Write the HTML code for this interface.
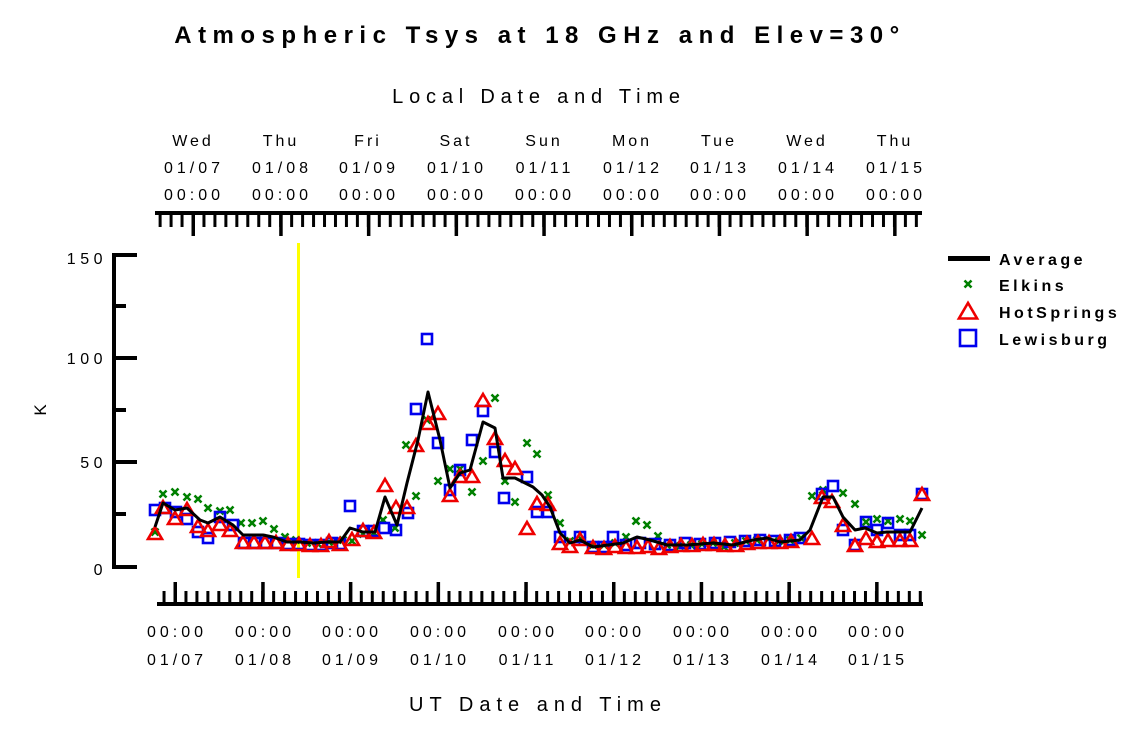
<!DOCTYPE html>
<html><head><meta charset="utf-8"><style>
html,body{margin:0;padding:0;background:#fff;}
svg{display:block;font-family:"Liberation Sans",sans-serif;}
</style></head><body>
<svg width="1125" height="731" viewBox="0 0 1125 731" xmlns="http://www.w3.org/2000/svg">
<defs>
<pattern id="pb" x="173.5" y="0" width="10.96" height="1000" patternUnits="userSpaceOnUse"><rect width="3" height="1000" fill="#000"/></pattern>
<pattern id="pt" x="191.5" y="0" width="10.96" height="1000" patternUnits="userSpaceOnUse"><rect width="3" height="1000" fill="#000"/></pattern>
<g id="sq"><rect x="-5" y="-5" width="10" height="10" fill="none" stroke="#0000ee" stroke-width="2.6"/></g>
<g id="tr"><path d="M0,-7 L7,5 L-7,5 Z" fill="none" stroke="#ee0000" stroke-width="2.6"/></g>
<g id="xx"><path d="M-3.5,-3.5 L3.5,3.5 M-3.5,3.5 L3.5,-3.5" stroke="#008000" stroke-width="2.6"/></g>
</defs>
<text x="540" y="43" text-anchor="middle" font-size="24" font-weight="bold" letter-spacing="6.5">Atmospheric Tsys at 18 GHz and Elev=30°</text>
<text x="539" y="103" text-anchor="middle" font-size="20" letter-spacing="5.8">Local Date and Time</text>
<g font-size="16" text-anchor="middle" letter-spacing="3">
<text x="193" y="146">Wed</text><text x="281" y="146">Thu</text><text x="368" y="146">Fri</text><text x="456" y="146">Sat</text><text x="544" y="146">Sun</text><text x="632" y="146">Mon</text><text x="719" y="146">Tue</text><text x="807" y="146">Wed</text><text x="895" y="146">Thu</text>
</g>
<g font-size="16" text-anchor="middle" letter-spacing="4">
<text x="194" y="173">01/07</text><text x="282" y="173">01/08</text><text x="369" y="173">01/09</text><text x="457" y="173">01/10</text><text x="545" y="173">01/11</text><text x="633" y="173">01/12</text><text x="720" y="173">01/13</text><text x="808" y="173">01/14</text><text x="896" y="173">01/15</text>
<text x="194" y="200">00:00</text><text x="282" y="200">00:00</text><text x="369" y="200">00:00</text><text x="457" y="200">00:00</text><text x="545" y="200">00:00</text><text x="633" y="200">00:00</text><text x="720" y="200">00:00</text><text x="808" y="200">00:00</text><text x="896" y="200">00:00</text>
<text x="177" y="637">00:00</text><text x="265" y="637">00:00</text><text x="352" y="637">00:00</text><text x="440" y="637">00:00</text><text x="528" y="637">00:00</text><text x="615" y="637">00:00</text><text x="703" y="637">00:00</text><text x="791" y="637">00:00</text><text x="878" y="637">00:00</text>
<text x="177" y="665">01/07</text><text x="265" y="665">01/08</text><text x="352" y="665">01/09</text><text x="440" y="665">01/10</text><text x="528" y="665">01/11</text><text x="615" y="665">01/12</text><text x="703" y="665">01/13</text><text x="791" y="665">01/14</text><text x="878" y="665">01/15</text>
</g>
<text x="538" y="711" text-anchor="middle" font-size="20" letter-spacing="6">UT Date and Time</text>
<g font-size="16" text-anchor="end" letter-spacing="4.5">
<text x="107" y="264">150</text><text x="107" y="364">100</text><text x="107" y="468">50</text><text x="107" y="575">0</text>
</g>
<text x="46" y="410" font-size="17" text-anchor="middle" transform="rotate(-90 46 410)">K</text>
<!-- top axis -->
<rect x="155" y="211" width="767" height="4"/>
<rect x="158" y="214" width="762" height="13" fill="url(#pt)"/>
<g fill="#000"><rect x="191.5" y="214" width="3.5" height="22"/><rect x="279.2" y="214" width="3.5" height="22"/><rect x="366.9" y="214" width="3.5" height="22"/><rect x="454.6" y="214" width="3.5" height="22"/><rect x="542.3" y="214" width="3.5" height="22"/><rect x="630" y="214" width="3.5" height="22"/><rect x="717.7" y="214" width="3.5" height="22"/><rect x="805.4" y="214" width="3.5" height="22"/><rect x="893.1" y="214" width="3.5" height="22"/></g>
<!-- bottom axis -->
<rect x="157" y="602" width="766" height="4"/>
<rect x="162" y="591" width="760" height="12" fill="url(#pb)"/>
<g fill="#000"><rect x="173.5" y="582" width="3.5" height="22"/><rect x="261.2" y="582" width="3.5" height="22"/><rect x="348.9" y="582" width="3.5" height="22"/><rect x="436.6" y="582" width="3.5" height="22"/><rect x="524.3" y="582" width="3.5" height="22"/><rect x="612" y="582" width="3.5" height="22"/><rect x="699.7" y="582" width="3.5" height="22"/><rect x="787.4" y="582" width="3.5" height="22"/><rect x="875.1" y="582" width="3.5" height="22"/></g>
<!-- y axis -->
<g fill="#000"><rect x="112" y="253" width="4" height="315"/>
<rect x="112" y="253" width="25" height="4"/><rect x="112" y="356" width="25" height="4"/><rect x="112" y="460" width="25" height="4"/><rect x="112" y="565" width="25" height="4"/>
<rect x="112" y="304" width="14" height="4"/><rect x="112" y="408" width="14" height="4"/><rect x="112" y="512" width="14" height="4"/></g>
<!-- yellow line -->
<rect x="297" y="243" width="3" height="335" fill="#ffff00"/>
<!-- markers -->
<g>
<use href="#xx" x="155" y="532"/><use href="#xx" x="163" y="494"/><use href="#xx" x="175" y="492"/><use href="#xx" x="187" y="497"/><use href="#xx" x="198" y="499"/><use href="#xx" x="208" y="508"/><use href="#xx" x="220" y="511"/><use href="#xx" x="230" y="510"/><use href="#xx" x="241" y="523"/><use href="#xx" x="252" y="523"/><use href="#xx" x="263" y="521"/><use href="#xx" x="274" y="529"/><use href="#xx" x="285" y="537"/>
<use href="#xx" x="296" y="540"/><use href="#xx" x="307" y="543"/><use href="#xx" x="318" y="544"/><use href="#xx" x="329" y="542"/><use href="#xx" x="343" y="540"/><use href="#xx" x="352" y="541"/><use href="#xx" x="363" y="534"/><use href="#xx" x="374" y="533"/><use href="#xx" x="383" y="520"/><use href="#xx" x="395" y="528"/><use href="#xx" x="406" y="445"/><use href="#xx" x="416" y="496"/>
<use href="#xx" x="427" y="420"/><use href="#xx" x="438" y="481"/><use href="#xx" x="450" y="469"/><use href="#xx" x="460" y="469"/><use href="#xx" x="472" y="492"/><use href="#xx" x="483" y="461"/><use href="#xx" x="495" y="398"/><use href="#xx" x="505" y="481"/><use href="#xx" x="515" y="502"/><use href="#xx" x="527" y="443"/><use href="#xx" x="537" y="454"/><use href="#xx" x="548" y="495"/><use href="#xx" x="560" y="523"/><use href="#xx" x="570" y="541"/>
<use href="#xx" x="582" y="540"/><use href="#xx" x="593" y="545"/><use href="#xx" x="604" y="545"/><use href="#xx" x="615" y="543"/><use href="#xx" x="626" y="537"/><use href="#xx" x="636" y="521"/><use href="#xx" x="647" y="525"/><use href="#xx" x="658" y="536"/><use href="#xx" x="667" y="545"/><use href="#xx" x="680" y="546"/><use href="#xx" x="691" y="545"/><use href="#xx" x="702" y="544"/><use href="#xx" x="713" y="543"/><use href="#xx" x="724" y="547"/><use href="#xx" x="735" y="543"/><use href="#xx" x="746" y="541"/><use href="#xx" x="757" y="540"/><use href="#xx" x="768" y="539"/><use href="#xx" x="779" y="541"/><use href="#xx" x="790" y="540"/><use href="#xx" x="801" y="538"/>
<use href="#xx" x="812" y="496"/><use href="#xx" x="823" y="490"/><use href="#xx" x="843" y="493"/><use href="#xx" x="855" y="504"/><use href="#xx" x="866" y="522"/><use href="#xx" x="877" y="519"/><use href="#xx" x="888" y="521"/><use href="#xx" x="900" y="519"/><use href="#xx" x="910" y="521"/><use href="#xx" x="922" y="535"/>
</g>
<g>
<use href="#sq" x="155" y="510"/><use href="#sq" x="165" y="508"/><use href="#sq" x="176" y="512"/><use href="#sq" x="187" y="519"/><use href="#sq" x="198" y="532"/><use href="#sq" x="208" y="538"/><use href="#sq" x="220" y="517"/><use href="#sq" x="233" y="525"/><use href="#sq" x="244" y="543"/><use href="#sq" x="255" y="543"/><use href="#sq" x="266" y="543"/><use href="#sq" x="277" y="543"/><use href="#sq" x="288" y="544"/><use href="#sq" x="299" y="544"/><use href="#sq" x="310" y="545"/><use href="#sq" x="321" y="545"/><use href="#sq" x="332" y="543"/><use href="#sq" x="340" y="544"/>
<use href="#sq" x="350" y="506"/><use href="#sq" x="363" y="531"/><use href="#sq" x="374" y="531"/><use href="#sq" x="384" y="528"/><use href="#sq" x="396" y="530"/><use href="#sq" x="408" y="513"/><use href="#sq" x="416" y="409"/><use href="#sq" x="427" y="339"/><use href="#sq" x="438" y="443"/><use href="#sq" x="450" y="490"/><use href="#sq" x="460" y="470"/><use href="#sq" x="472" y="440"/><use href="#sq" x="483" y="411"/><use href="#sq" x="495" y="452"/><use href="#sq" x="504" y="498"/><use href="#sq" x="527" y="477"/><use href="#sq" x="537" y="512"/><use href="#sq" x="548" y="512"/><use href="#sq" x="560" y="537"/><use href="#sq" x="580" y="537"/>
<use href="#sq" x="593" y="547"/><use href="#sq" x="604" y="547"/><use href="#sq" x="613" y="537"/><use href="#sq" x="626" y="545"/><use href="#sq" x="640" y="543"/><use href="#sq" x="655" y="544"/><use href="#sq" x="670" y="545"/><use href="#sq" x="685" y="543"/><use href="#sq" x="700" y="544"/><use href="#sq" x="715" y="543"/><use href="#sq" x="730" y="542"/><use href="#sq" x="745" y="541"/><use href="#sq" x="760" y="540"/><use href="#sq" x="775" y="541"/><use href="#sq" x="790" y="540"/><use href="#sq" x="800" y="538"/>
<use href="#sq" x="822" y="494"/><use href="#sq" x="833" y="486"/><use href="#sq" x="843" y="530"/><use href="#sq" x="855" y="545"/><use href="#sq" x="866" y="522"/><use href="#sq" x="877" y="530"/><use href="#sq" x="888" y="523"/><use href="#sq" x="900" y="535"/><use href="#sq" x="910" y="535"/><use href="#sq" x="922" y="494"/>
</g>
<g>
<use href="#tr" x="155" y="534"/><use href="#tr" x="163" y="508"/><use href="#tr" x="175" y="519"/><use href="#tr" x="187" y="510"/><use href="#tr" x="198" y="527"/><use href="#tr" x="208" y="531"/><use href="#tr" x="220" y="525"/><use href="#tr" x="230" y="531"/><use href="#tr" x="243" y="543"/><use href="#tr" x="254" y="543"/><use href="#tr" x="265" y="543"/><use href="#tr" x="276" y="543"/><use href="#tr" x="288" y="545"/><use href="#tr" x="299" y="545"/><use href="#tr" x="310" y="546"/><use href="#tr" x="321" y="546"/><use href="#tr" x="329" y="542"/><use href="#tr" x="340" y="545"/><use href="#tr" x="352" y="540"/><use href="#tr" x="363" y="531"/><use href="#tr" x="374" y="533"/>
<use href="#tr" x="385" y="486"/><use href="#tr" x="396" y="508"/><use href="#tr" x="407" y="508"/><use href="#tr" x="416" y="446"/><use href="#tr" x="428" y="424"/><use href="#tr" x="438" y="414"/><use href="#tr" x="450" y="496"/><use href="#tr" x="460" y="477"/><use href="#tr" x="472" y="477"/><use href="#tr" x="483" y="401"/><use href="#tr" x="495" y="439"/><use href="#tr" x="505" y="461"/><use href="#tr" x="515" y="469"/><use href="#tr" x="527" y="529"/><use href="#tr" x="537" y="504"/><use href="#tr" x="548" y="505"/><use href="#tr" x="560" y="544"/><use href="#tr" x="570" y="547"/><use href="#tr" x="580" y="540"/>
<use href="#tr" x="593" y="548"/><use href="#tr" x="604" y="549"/><use href="#tr" x="615" y="547"/><use href="#tr" x="626" y="548"/><use href="#tr" x="637" y="548"/><use href="#tr" x="648" y="547"/><use href="#tr" x="659" y="549"/><use href="#tr" x="670" y="547"/><use href="#tr" x="681" y="546"/><use href="#tr" x="692" y="546"/><use href="#tr" x="703" y="545"/><use href="#tr" x="714" y="545"/><use href="#tr" x="725" y="546"/><use href="#tr" x="736" y="546"/><use href="#tr" x="747" y="544"/><use href="#tr" x="758" y="543"/><use href="#tr" x="769" y="543"/><use href="#tr" x="780" y="543"/><use href="#tr" x="791" y="542"/><use href="#tr" x="812" y="539"/>
<use href="#tr" x="822" y="498"/><use href="#tr" x="832" y="502"/><use href="#tr" x="843" y="526"/><use href="#tr" x="855" y="546"/><use href="#tr" x="866" y="539"/><use href="#tr" x="877" y="542"/><use href="#tr" x="888" y="541"/><use href="#tr" x="900" y="541"/><use href="#tr" x="910" y="541"/><use href="#tr" x="922" y="495"/>
</g>
<polyline fill="none" stroke="#000" stroke-width="3" stroke-linejoin="round" points="155,527 163,503 175,510 187,508 200,520 208,523 220,517 233,525 243,535 263,535 273,537 287,542 300,542 313,543 327,542 340,542 350,528 363,532 375,532 385,497 397,525 407,483 418,440 428,392 440,440 450,488 460,473 470,470 483,422 495,428 503,478 515,478 533,487 542,495 550,507 560,533 570,543 580,540 593,547 623,543 637,537 650,540 667,545 687,545 713,543 733,545 753,540 767,538 780,542 800,540 810,530 823,497 833,497 843,517 855,530 865,528 877,533 887,532 910,532 922,508"/>
<!-- legend -->
<rect x="948" y="256" width="42" height="5" fill="#000"/>
<use href="#xx" x="968" y="284"/>
<g transform="translate(968,312) scale(1.3)"><path d="M0,-7 L7,5 L-7,5 Z" fill="none" stroke="#ee0000" stroke-width="2"/></g>
<rect x="960" y="330" width="16" height="16" fill="none" stroke="#0000ee" stroke-width="2.6"/>
<g font-size="16" font-weight="bold" letter-spacing="3.5">
<text x="999" y="265">Average</text><text x="999" y="291">Elkins</text><text x="999" y="318">HotSprings</text><text x="999" y="345">Lewisburg</text>
</g>
</svg>
</body></html>
